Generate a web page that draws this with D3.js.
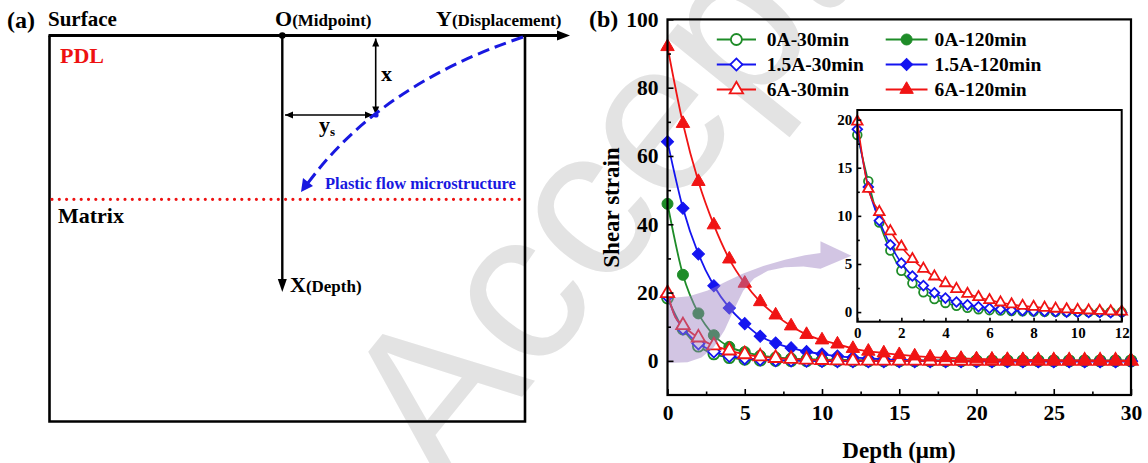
<!DOCTYPE html>
<html>
<head>
<meta charset="utf-8">
<script src="https://cdn.jsdelivr.net/npm/d3@7"></script>
<style>
  body { margin: 0; background: #fff; }
  svg { display: block; }
  text { font-family: "Liberation Serif", "Times New Roman", serif; font-weight: bold; }
</style>
</head>
<body>
<div id="chart"></div>
<script>
// ----------------------------
// DATA
// ----------------------------
const depth30 = [0, 0.5, 1, 1.5, 2, 2.5, 3, 3.5, 4, 4.5, 5, 5.5, 6, 6.5, 7, 7.5, 8, 8.5, 9, 9.5, 10, 10.5, 11, 11.5, 12,
  13, 14, 15, 16, 17, 18, 19, 20, 21, 22, 23, 24, 25, 26, 27, 28, 29, 30];
const strain0A30 = [18.4, 13.6, 9.3, 6.4, 4.3, 3.0, 2.05, 1.35, 0.95, 0.65, 0.45, 0.3, 0.2, 0.15, 0.1, 0.08, 0.05, 0.04, 0.03, 0.02, 0.02, 0.01, 0.01, 0.01, 0,
  0, 0, 0, 0, 0, 0, 0, 0, 0, 0, 0, 0, 0, 0, 0, 0, 0, 0];
const strain15A30 = [19.0, 13.0, 9.5, 7.0, 5.1, 3.75, 2.75, 2.0, 1.45, 1.05, 0.75, 0.55, 0.4, 0.3, 0.2, 0.15, 0.1, 0.06, 0.03, 0, -0.02, -0.04, -0.05, -0.06, -0.07,
  -0.1, -0.1, -0.1, -0.1, -0.1, -0.1, -0.1, -0.1, -0.1, -0.1, -0.1, -0.1, -0.1, -0.1, -0.1, -0.1, -0.1, -0.1];
const strain6A30 = [19.8, 12.8, 10.4, 8.4, 6.8, 5.5, 4.5, 3.7, 3.0, 2.4, 1.9, 1.55, 1.25, 1.0, 0.8, 0.65, 0.55, 0.45, 0.35, 0.28, 0.22, 0.17, 0.12, 0.08, 0.05,
  0.03, 0.02, 0.01, 0.01, 0, 0, 0, 0, 0, 0, 0, 0, 0, 0, 0, 0, 0, 0];

const depth120 = [0, 1, 2, 3, 4, 5, 6, 7, 8, 9, 10, 11, 12, 13, 14, 15, 16, 17, 18, 19, 20, 21, 22, 23, 24, 25, 26, 27, 28, 29, 30];
const strain0A120 = [46, 25.2, 13.9, 7.5, 4.1, 2.6, 1.5, 1.0, 0.7, 0.5, 0.4, 0.3, 0.25, 0.2, 0.2, 0.15, 0.15, 0.1, 0.1, 0.1, 0.1, 0.1, 0.1, 0.1, 0.1, 0.1, 0.1, 0.1, 0.1, 0.1, 0.1];
const strain15A120 = [64.2, 44.7, 31.3, 22.0, 15.5, 10.9, 7.2, 5.2, 3.8, 2.7, 2.0, 1.4, 1.0, 0.7, 0.45, 0.3, 0.15, 0.05, 0, -0.1, -0.15, -0.2, -0.2, -0.2, -0.2, -0.2, -0.2, -0.2, -0.2, -0.2, -0.2];
const strain6A120 = [92, 69.5, 52.5, 39.8, 29.8, 22.7, 17.3, 13.4, 10.2, 7.7, 6.1, 4.9, 3.6, 2.8, 2.3, 1.8, 1.4, 1.1, 0.9, 0.7, 0.55, 0.45, 0.35, 0.3, 0.25, 0.2, 0.15, 0.12, 0.1, 0.08, 0.05];

const seriesNames = ["0A-30min", "0A-120min", "1.5A-30min", "1.5A-120min", "6A-30min", "6A-120min"];

const xTicks = [0, 5, 10, 15, 20, 25, 30];
const xMinor = [2.5, 7.5, 12.5, 17.5, 22.5, 27.5];
const yTicks = [0, 20, 40, 60, 80, 100];
const yMinor = [10, 30, 50, 70, 90];
const insetXTicks = [0, 2, 4, 6, 8, 10, 12];
const insetXMinor = [1, 3, 5, 7, 9, 11];
const insetYTicks = [0, 5, 10, 15, 20];
const insetYMinor = [2.5, 7.5, 12.5, 17.5];

// purple guide arrow outline, in data units of panel (b)
const guideArrow = [
  [0, 18.3], [1.4, 18.9], [2.6, 20.6], [3.7, 23.0], [4.9, 25.6], [6.2, 27.8], [7.6, 29.6], [8.9, 30.9], [9.9, 31.6],
  [9.9, 35.0], [11.9, 30.8], [9.9, 27.0],
  [8.8, 27.6], [7.6, 27.4], [6.5, 26.4], [5.6, 24.1], [4.9, 20.5], [4.3, 15.0], [3.7, 9.0], [3.0, 4.0], [2.2, 1.0], [1.3, -0.4], [0, -0.6]
];

const colors = { g: "#1e8c28", b: "#1414f0", r: "#f01414" };

const series = [
  { name: "0A-30min", xs: depth30, ys: strain0A30, color: colors.g, shape: "circle", filled: false },
  { name: "0A-120min", xs: depth120, ys: strain0A120, color: colors.g, shape: "circle", filled: true },
  { name: "1.5A-30min", xs: depth30, ys: strain15A30, color: colors.b, shape: "diamond", filled: false },
  { name: "1.5A-120min", xs: depth120, ys: strain15A120, color: colors.b, shape: "diamond", filled: true },
  { name: "6A-30min", xs: depth30, ys: strain6A30, color: colors.r, shape: "triangle", filled: false },
  { name: "6A-120min", xs: depth120, ys: strain6A120, color: colors.r, shape: "triangle", filled: true }
].map(s => ({ ...s, values: s.xs.map((x, i) => ({ x, y: s.ys[i] })) }));

// ----------------------------
// SVG
// ----------------------------
const width = 1148, height = 463;
const svg = d3.select("#chart").append("svg")
  .attr("width", width).attr("height", height);

// watermark (under everything)
svg.append("text")
  .attr("transform", "translate(445,492) rotate(-51)")
  .style("font-family", "'Liberation Sans', Arial, sans-serif")
  .style("font-weight", "normal")
  .attr("font-size", 215)
  .attr("fill", "#e3e3e3")
  .text("Accepted");

// ----------------------------
// PANEL (a) - schematic
// ----------------------------
const a = svg.append("g");
const boxL = 49.5, boxR = 525, boxT = 35.5, boxB = 421.5, oX = 282.3;

a.append("text").attr("x", 7).attr("y", 28).attr("font-size", 24).text("(a)");
a.append("text").attr("x", 48).attr("y", 26).attr("font-size", 21).text("Surface");
a.append("text").attr("x", 60).attr("y", 63).attr("font-size", 22).attr("fill", "#ee1111").text("PDL");
a.append("text").attr("x", 58).attr("y", 223).attr("font-size", 22).text("Matrix");

const o = a.append("text").attr("x", 275).attr("y", 26);
o.append("tspan").attr("font-size", 22).text("O");
o.append("tspan").attr("font-size", 17).text("(Midpoint)");
const yl = a.append("text").attr("x", 436).attr("y", 26);
yl.append("tspan").attr("font-size", 22).text("Y");
yl.append("tspan").attr("font-size", 17).text("(Displacement)");
const xl = a.append("text").attr("x", 290).attr("y", 292);
xl.append("tspan").attr("font-size", 22).text("X");
xl.append("tspan").attr("font-size", 17).text("(Depth)");

// box
a.append("path")
  .attr("d", `M${boxL},${boxT}V${boxB}H${boxR}V${boxT}`)
  .attr("fill", "none").attr("stroke", "#000").attr("stroke-width", 2.6);
// top axis with arrow
a.append("line").attr("x1", boxL - 1).attr("x2", 560).attr("y1", boxT).attr("y2", boxT)
  .attr("stroke", "#000").attr("stroke-width", 2.8);
a.append("path").attr("d", `M570,${boxT}L557,${boxT - 5}L557,${boxT + 5}Z`).attr("fill", "#000");
// depth axis
a.append("line").attr("x1", oX).attr("x2", oX).attr("y1", boxT).attr("y2", 282)
  .attr("stroke", "#000").attr("stroke-width", 2.4);
a.append("path").attr("d", `M${oX},292L${oX - 4.5},279L${oX + 4.5},279Z`).attr("fill", "#000");
a.append("circle").attr("cx", oX).attr("cy", boxT).attr("r", 3.3).attr("fill", "#000");

// double arrows
function dblArrow(x1, y1, x2, y2) {
  const ang = Math.atan2(y2 - y1, x2 - x1);
  a.append("line").attr("x1", x1).attr("y1", y1).attr("x2", x2).attr("y2", y2)
    .attr("stroke", "#000").attr("stroke-width", 1.6);
  [[x1, y1, ang + Math.PI], [x2, y2, ang]].forEach(([px, py, t]) => {
    const L = 8, Wd = 3.5;
    const bx = px - L * Math.cos(t), by = py - L * Math.sin(t);
    a.append("path")
      .attr("d", `M${px},${py}L${bx - Wd * Math.sin(t)},${by + Wd * Math.cos(t)}L${bx + Wd * Math.sin(t)},${by - Wd * Math.cos(t)}Z`)
      .attr("fill", "#000");
  });
}
dblArrow(375.7, 38.5, 375.7, 114.5);
dblArrow(285, 115, 373, 115);
a.append("text").attr("x", 381).attr("y", 81).attr("font-size", 22).text("x");
const ys = a.append("text").attr("x", 319).attr("y", 132);
ys.append("tspan").attr("font-size", 22).text("y");
ys.append("tspan").attr("font-size", 13).attr("dy", 4).text("s");

// red dotted boundary
a.append("line").attr("x1", 52).attr("x2", 523).attr("y1", 199.3).attr("y2", 199.3)
  .attr("stroke", "#ee1111").attr("stroke-width", 3.2)
  .attr("stroke-linecap", "round").attr("stroke-dasharray", "0 7.3");

// blue dashed flow line
a.append("path").attr("d", "M523,37Q380,85 308,183")
  .attr("fill", "none").attr("stroke", "#1818e0").attr("stroke-width", 3)
  .attr("stroke-dasharray", "12 6");
a.append("path").attr("d", "M301,192L303,178L313,186Z").attr("fill", "#1818e0");
a.append("circle").attr("cx", 376).attr("cy", 115).attr("r", 2.6).attr("fill", "#1818e0");
a.append("text").attr("x", 325).attr("y", 189).attr("font-size", 16.5).attr("fill", "#1818e0")
  .text("Plastic flow microstructure");

// ----------------------------
// PANEL (b) - main plot
// ----------------------------
const x = d3.scaleLinear().domain([0, 30]).range([667.5, 1131]);
const y = d3.scaleLinear().domain([-10, 100]).range([395, 19.4]);

const xi = d3.scaleLinear().domain([0, 12]).range([857.3, 1121.7]);
const yi = d3.scaleLinear().domain([-1, 21]).range([321.7, 110]);

const symSize = { circle: 95, diamond: 74, triangle: 78 };
function symPath(shape, scale) {
  if (shape === "diamond") return d3.symbol(d3.symbolSquare, symSize.diamond * scale)();
  if (shape === "triangle") return d3.symbol(d3.symbolTriangle, symSize.triangle * scale)();
  return d3.symbol(d3.symbolCircle, symSize.circle * scale)();
}

function drawSeries(g, sx, sy, pts, s, scale) {
  const line = d3.line().x(d => sx(d.x)).y(d => sy(d.y)).curve(d3.curveMonotoneX);
  g.append("path").attr("d", line(pts.line))
    .attr("fill", "none").attr("stroke", s.color).attr("stroke-width", scale > 0.8 ? 1.8 : 1.6);
  g.selectAll(null).data(pts.marks).join("path")
    .attr("d", symPath(s.shape, scale))
    .attr("transform", d => `translate(${sx(d.x)},${sy(d.y)})${s.shape === "diamond" ? " rotate(45)" : ""}`)
    .attr("fill", s.filled ? s.color : "#fff")
    .attr("stroke", s.color)
    .attr("stroke-width", s.filled ? 1 : 1.8);
}

const plot = svg.append("g");
series.forEach(s => {
  drawSeries(plot, x, y, { line: s.values, marks: s.values.filter(d => Number.isInteger(d.x)) }, s, 1);
});

// purple guide arrow over the low curves
svg.append("path")
  .attr("d", d3.line().x(d => x(d[0])).y(d => y(d[1])).curve(d3.curveLinearClosed)(guideArrow))
  .attr("fill", "#9b7fc0").attr("fill-opacity", 0.45);

// axes
function styleAxis(g, size) {
  g.select(".domain").remove();
  g.selectAll(".tick line").attr("stroke", "#000").attr("stroke-width", 1.6);
  g.selectAll(".tick text").attr("font-size", size).attr("fill", "#000")
    .style("font-family", "'Liberation Serif', serif").style("font-weight", "bold");
}
svg.append("g").attr("transform", "translate(0,395)")
  .call(d3.axisBottom(x).tickValues(xTicks).tickSize(-6).tickPadding(10).tickFormat(d3.format("d")))
  .call(g => styleAxis(g, 21.5));
svg.append("g").attr("transform", "translate(0,395)")
  .call(d3.axisBottom(x).tickValues(xMinor).tickSize(-3.5).tickFormat(""))
  .call(g => styleAxis(g, 21.5));
svg.append("g").attr("transform", "translate(667.5,0)")
  .call(d3.axisLeft(y).tickValues(yTicks).tickSize(-6).tickPadding(9).tickFormat(d3.format("d")))
  .call(g => styleAxis(g, 21.5));
svg.append("g").attr("transform", "translate(667.5,0)")
  .call(d3.axisLeft(y).tickValues(yMinor).tickSize(-3.5).tickFormat(""))
  .call(g => styleAxis(g, 21.5));

svg.append("rect").attr("x", 667.5).attr("y", 19.4).attr("width", 1131 - 667.5).attr("height", 395 - 19.4)
  .attr("fill", "none").attr("stroke", "#000").attr("stroke-width", 2.2);

svg.append("text").attr("x", 589).attr("y", 27).attr("font-size", 24).text("(b)");
svg.append("text").attr("transform", "translate(619,207.5) rotate(-90)")
  .attr("text-anchor", "middle").attr("font-size", 23).text("Shear strain");
svg.append("text").attr("x", 899).attr("y", 458).attr("text-anchor", "middle")
  .attr("font-size", 23).text("Depth (μm)");

// legend
const legendRows = [39.5, 64.5, 89.5];
const legendCols = [{ l: 716.8, r: 756, t: 766.8 }, { l: 885.7, r: 927.5, t: 934.6 }];
const legend = svg.append("g");
series.forEach((s, i) => {
  const c = legendCols[i % 2], ry = legendRows[Math.floor(i / 2)];
  legend.append("line").attr("x1", c.l).attr("x2", c.r).attr("y1", ry).attr("y2", ry)
    .attr("stroke", s.color).attr("stroke-width", 1.8);
  legend.append("path").attr("d", symPath(s.shape, 1))
    .attr("transform", `translate(${(c.l + c.r) / 2},${ry})${s.shape === "diamond" ? " rotate(45)" : ""}`)
    .attr("fill", s.filled ? s.color : "#fff").attr("stroke", s.color)
    .attr("stroke-width", s.filled ? 1 : 1.8);
  legend.append("text").attr("x", c.t).attr("y", ry).attr("dy", "0.35em")
    .attr("font-size", 19.5).text(seriesNames[i]);
});

// ----------------------------
// INSET
// ----------------------------
svg.append("rect").attr("x", 857.3).attr("y", 110).attr("width", 1121.7 - 857.3).attr("height", 321.7 - 110)
  .attr("fill", "#fff");
const inset = svg.append("g");
series.filter(s => !s.filled).forEach(s => {
  const pts = s.values.filter(d => d.x <= 12);
  drawSeries(inset, xi, yi, { line: pts, marks: pts }, s, 0.62);
});
svg.append("g").attr("transform", "translate(0,321.7)")
  .call(d3.axisBottom(xi).tickValues(insetXTicks).tickSize(-4).tickPadding(6))
  .call(g => styleAxis(g, 15));
svg.append("g").attr("transform", "translate(0,321.7)")
  .call(d3.axisBottom(xi).tickValues(insetXMinor).tickSize(-2.5).tickFormat(""))
  .call(g => styleAxis(g, 15));
svg.append("g").attr("transform", "translate(857.3,0)")
  .call(d3.axisLeft(yi).tickValues(insetYTicks).tickSize(-4).tickPadding(5))
  .call(g => styleAxis(g, 15));
svg.append("g").attr("transform", "translate(857.3,0)")
  .call(d3.axisLeft(yi).tickValues(insetYMinor).tickSize(-2.5).tickFormat(""))
  .call(g => styleAxis(g, 15));
svg.append("rect").attr("x", 857.3).attr("y", 110).attr("width", 1121.7 - 857.3).attr("height", 321.7 - 110)
  .attr("fill", "none").attr("stroke", "#000").attr("stroke-width", 2);
</script>
</body>
</html>
